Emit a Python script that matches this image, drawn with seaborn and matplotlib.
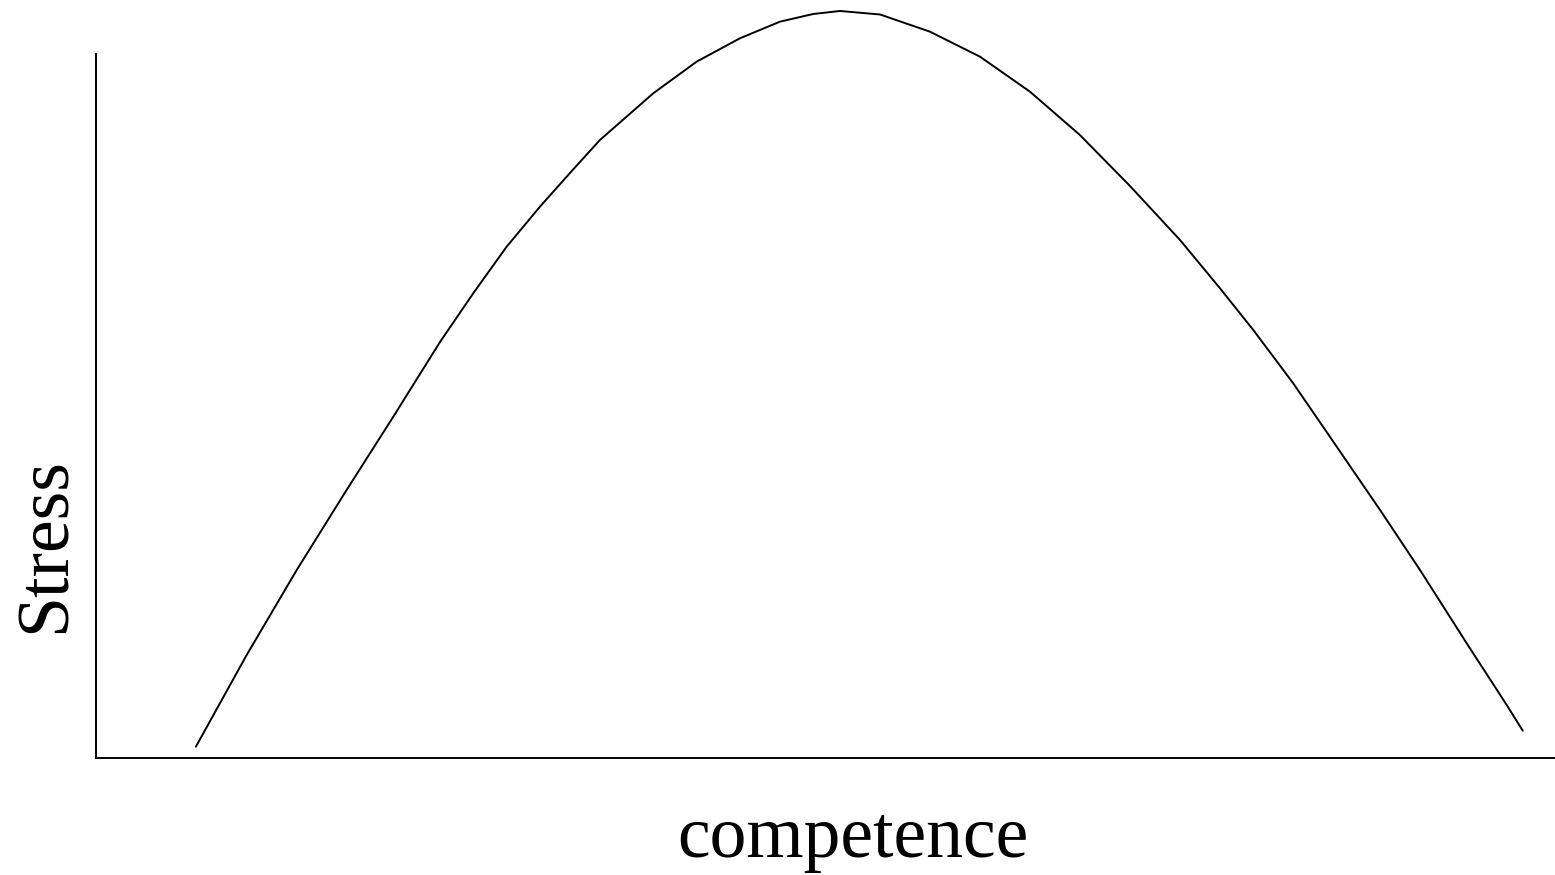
import matplotlib
matplotlib.use("Agg")
import matplotlib.pyplot as plt
import pandas as pd
import seaborn as sns

# curve (competence on x, stress on y, both 0-100 scale)
competence = [6.85, 10.33, 13.76, 17.18, 20.38, 23.58, 25.86, 28.15, 30.43, 32.71,
              34.54, 38.20, 41.17, 44.14, 46.88, 49.16, 50.99, 53.74, 57.16, 60.59,
              64.02, 67.44, 70.87, 74.30, 77.04, 79.32, 82.06, 85.04, 88.01, 90.75,
              93.95, 96.69, 97.79]
stress = [1.61, 14.63, 26.70, 38.07, 48.48, 59.09, 66.01, 72.63, 78.31, 83.61,
          87.78, 94.42, 98.91, 102.23, 104.59, 105.68, 106.11, 105.61, 103.17, 99.62,
          94.64, 88.49, 81.25, 73.58, 66.72, 60.80, 53.22, 44.22, 35.23, 26.70,
          16.29, 7.53, 3.88]

df = pd.DataFrame({"competence": competence, "stress": stress})

sns.set_style("white")
plt.rcParams["font.family"] = ["Liberation Serif", "DejaVu Serif"]
plt.rcParams["text.color"] = "black"
plt.rcParams["axes.labelcolor"] = "black"

fig = plt.figure(figsize=(15.55, 8.75), dpi=100)
ax = fig.add_axes([0.0617, 0.1337, 0.9383, 0.8046])

sns.lineplot(data=df, x="competence", y="stress", color="black",
             linewidth=1.4, sort=False, ax=ax, clip_on=False)

ax.set_xlim(0, 100)
ax.set_ylim(0, 100)
ax.set_xticks([])
ax.set_yticks([])
sns.despine(ax=ax)
for side in ["left", "bottom"]:
    ax.spines[side].set_color("black")
    ax.spines[side].set_linewidth(1.4)

ax.set_xlabel("competence", fontsize=53, x=0.519, labelpad=34, color="black")
ax.set_ylabel("Stress", fontsize=53, y=0.3026, labelpad=11, color="black")

fig.savefig("out.png", dpi=100)
